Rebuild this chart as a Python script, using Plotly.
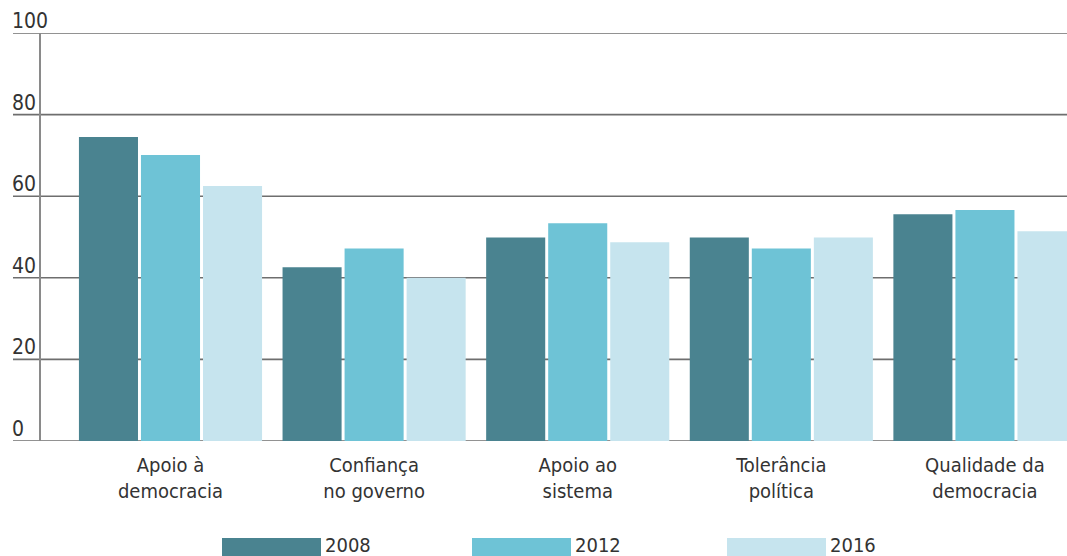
import plotly.graph_objects as go

categories = ["Apoio à<br>democracia", "Confiança<br>no governo", "Apoio ao<br>sistema",
              "Tolerância<br>política", "Qualidade da<br>democracia"]
years = ["2008", "2012", "2016"]
values_2008 = [74.5, 42.6, 49.9, 49.9, 55.6]
values_2012 = [70.1, 47.2, 53.4, 47.2, 56.6]
values_2016 = [62.5, 40.0, 48.7, 49.9, 51.4]
y_ticks = [0, 20, 40, 60, 80, 100]

colors = ["#4A8390", "#6EC3D6", "#C6E4EE"]
FONT = "DejaVu Sans Condensed, Liberation Sans Narrow, sans-serif"
TEXT = "#333333"

W, H = 1067, 556
ML, MR, MT, MB = 41, 0, 33, 115
PW, PH = W - ML - MR, H - MT - MB


def px_x(x):
    return (x - ML) / PW


def px_y(y):
    return (H - MB - y) / PH


fig = go.Figure()
for name, vals, c in zip(years, [values_2008, values_2012, values_2016], colors):
    fig.add_trace(go.Bar(x=categories, y=vals, name=name, marker=dict(color=c, line=dict(width=0)),
                         showlegend=False))

shapes = []
annotations = []
for t in y_ticks:
    shapes.append(dict(type="line", xref="paper", yref="y", x0=px_x(13), x1=1, y0=t, y1=t,
                       line=dict(color="#6e6e6e", width=1.6), layer="below"))
    annotations.append(dict(xref="paper", yref="y", x=px_x(10), y=t, text=str(t), showarrow=False,
                            xanchor="left", yanchor="bottom", yshift=-2,
                            font=dict(family=FONT, size=21, color=TEXT)))

# legend (custom wide swatches)
leg_x = [222, 472, 727]
for name, c, lx in zip(years, colors, leg_x):
    shapes.append(dict(type="rect", xref="paper", yref="paper", x0=px_x(lx), x1=px_x(lx + 99),
                       y0=px_y(538), y1=px_y(560), fillcolor=c, line=dict(width=0)))
    annotations.append(dict(xref="paper", yref="paper", x=px_x(lx + 101), y=px_y(545), text=name,
                            showarrow=False, xanchor="left", yanchor="middle",
                            font=dict(family=FONT, size=20, color=TEXT)))

fig.update_layout(
    width=W, height=H,
    margin=dict(l=ML, r=MR, t=MT, b=MB),
    plot_bgcolor="white", paper_bgcolor="white",
    barmode="group", bargap=0.086, bargroupgap=0.048,
    shapes=shapes, annotations=annotations,
    xaxis=dict(range=[-0.636, 4.403], showgrid=False, zeroline=False, showline=False,
               ticks="outside", ticklen=6, tickcolor="rgba(0,0,0,0)",
               tickfont=dict(family=FONT, size=20, color=TEXT)),
    yaxis=dict(range=[0, 100], showgrid=False, zeroline=False, showticklabels=False,
               showline=True, linecolor="#8a8a8a", linewidth=1.5, ticks=""),
    font=dict(family=FONT, color=TEXT),
)

fig.write_html("out.html")
